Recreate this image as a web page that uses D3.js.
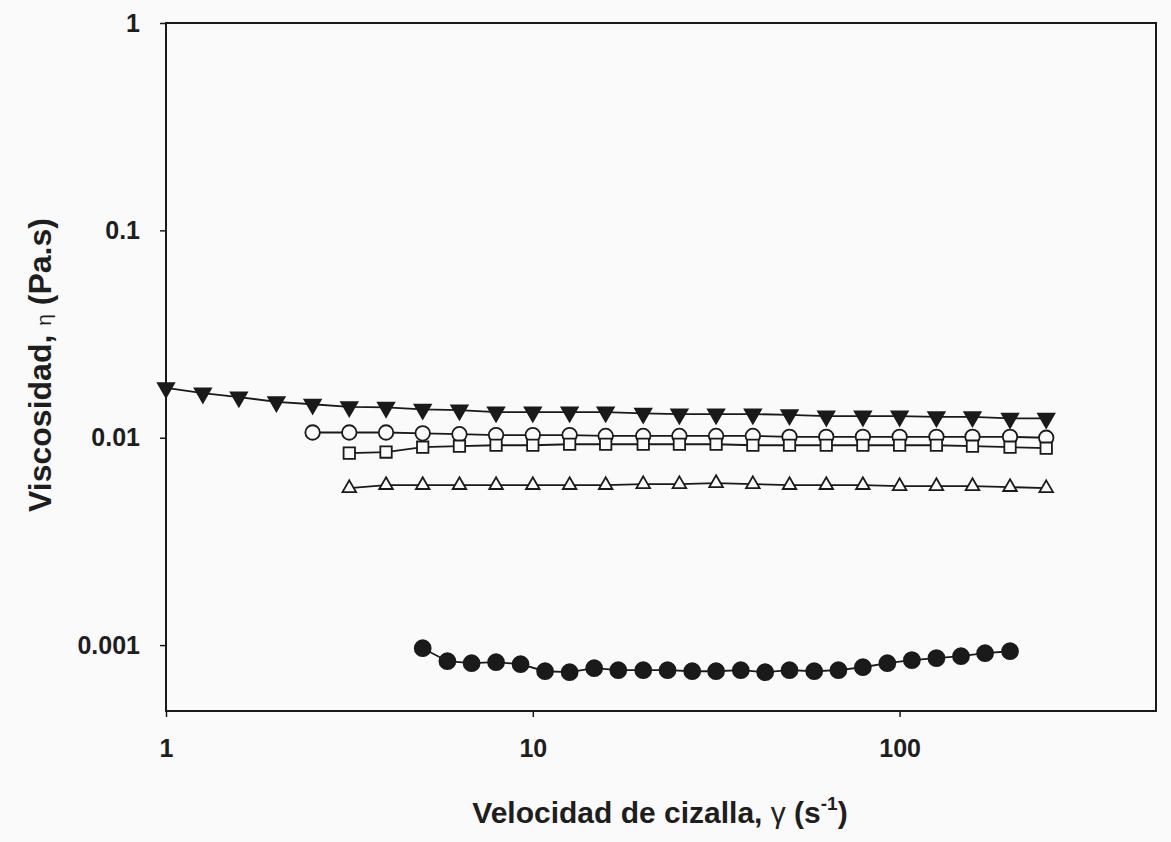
<!DOCTYPE html>
<html>
<head>
<meta charset="utf-8">
<script src="https://cdn.jsdelivr.net/npm/d3@7"></script>
<style>
  body { margin: 0; background: #fafafa; }
  svg text { font-family: "Liberation Sans", Arial, sans-serif; fill: #1e1e1e; }
</style>
</head>
<body>
<svg id="chart" width="1171" height="842"></svg>
<script>
// Shear rate values (s^-1)
var xTriDown = [1, 1.26, 1.58, 2, 2.51, 3.16, 3.98, 5.01, 6.31, 7.94, 10, 12.6, 15.8, 20, 25.1, 31.6, 39.8, 50.1, 63.1, 79.4, 100, 126, 158, 200, 251];
var xCircle = [2.51, 3.16, 3.98, 5.01, 6.31, 7.94, 10, 12.6, 15.8, 20, 25.1, 31.6, 39.8, 50.1, 63.1, 79.4, 100, 126, 158, 200, 251];
var xSquare = [3.16, 3.98, 5.01, 6.31, 7.94, 10, 12.6, 15.8, 20, 25.1, 31.6, 39.8, 50.1, 63.1, 79.4, 100, 126, 158, 200, 251];
var xTriUp = xSquare;
var xDot = [5.01, 5.85, 6.81, 7.94, 9.26, 10.8, 12.6, 14.7, 17.1, 20, 23.3, 27.2, 31.6, 36.9, 43, 50.1, 58.5, 68.1, 79.4, 92.6, 108, 126, 147, 171, 200];

// Viscosity values (Pa.s)
var yTriDown = [0.0174, 0.0164, 0.0157, 0.0149, 0.0145, 0.0141, 0.0140, 0.0137, 0.0136, 0.0133, 0.0133, 0.0133, 0.0133, 0.0131, 0.0130, 0.0130, 0.0130, 0.0129, 0.0127, 0.0127, 0.0127, 0.0126, 0.0126, 0.0124, 0.0124];
var yCircle = [0.0106, 0.0106, 0.0106, 0.0105, 0.0104, 0.0103, 0.0103, 0.0103, 0.0102, 0.0102, 0.0102, 0.0102, 0.0102, 0.0101, 0.0101, 0.0101, 0.0101, 0.0101, 0.0101, 0.0101, 0.0100];
var ySquare = [0.00843, 0.00853, 0.0090, 0.0091, 0.0092, 0.0092, 0.0093, 0.0093, 0.0093, 0.0093, 0.0093, 0.0092, 0.0092, 0.0092, 0.0092, 0.0092, 0.0092, 0.0091, 0.0090, 0.0089];
var yTriUp = [0.00571, 0.00591, 0.00591, 0.00591, 0.00591, 0.00591, 0.00591, 0.00591, 0.00597, 0.00597, 0.00604, 0.00597, 0.00591, 0.00591, 0.00591, 0.00584, 0.00584, 0.00584, 0.00578, 0.00571];
var yDot = [0.000966, 0.000836, 0.000818, 0.000827, 0.000809, 0.000748, 0.000740, 0.000774, 0.000757, 0.000757, 0.000757, 0.000748, 0.000748, 0.000757, 0.000740, 0.000757, 0.000748, 0.000757, 0.000782, 0.000818, 0.000846, 0.000865, 0.000884, 0.000914, 0.000934];

var xTicks = [1, 10, 100];
var yTicks = [1, 0.1, 0.01, 0.001];

var svg = d3.select("#chart");
var plotL = 166, plotR = 1156, plotT = 23, plotB = 711;

var x = d3.scaleLog().domain([1, 500]).range([plotL, plotR]);
var y = d3.scaleLog().domain([0.000481, 1]).range([plotB, plotT]);

// frame
svg.append("rect")
    .attr("x", plotL).attr("y", plotT)
    .attr("width", plotR - plotL).attr("height", plotB - plotT)
    .attr("fill", "none").attr("stroke", "#1a1a1a").attr("stroke-width", 2);

// axes (ticks only, the frame draws the lines)
var xAxis = svg.append("g")
    .attr("transform", "translate(0," + plotB + ")")
    .call(d3.axisBottom(x).tickValues(xTicks).tickFormat(d3.format("d")).tickSize(6).tickPadding(22));
var yAxis = svg.append("g")
    .attr("transform", "translate(" + plotL + ",0)")
    .call(d3.axisLeft(y).tickValues(yTicks).tickFormat(function (d) { return String(d); }).tickSize(6).tickPadding(20));

[xAxis, yAxis].forEach(function (g) {
    g.select(".domain").remove();
    g.selectAll(".tick line").attr("stroke", "#1a1a1a").attr("stroke-width", 1.5);
    g.selectAll(".tick text")
        .style("font-size", "25px")
        .style("font-weight", "bold")
        .attr("fill", "#1e1e1e");
});

// series
function drawLine(xs, ys) {
    var pts = xs.map(function (d, i) { return [d, ys[i]]; });
    svg.append("path")
        .datum(pts)
        .attr("fill", "none")
        .attr("stroke", "#1a1a1a")
        .attr("stroke-width", 1.8)
        .attr("d", d3.line().x(function (d) { return x(d[0]); }).y(function (d) { return y(d[1]); }));
    return pts;
}

function drawSymbols(pts, type, size, fill) {
    svg.append("g")
        .selectAll("path")
        .data(pts)
        .enter()
        .append("path")
        .attr("transform", function (d) { return "translate(" + x(d[0]) + "," + y(d[1]) + ")" + (type === "down" ? " rotate(180)" : ""); })
        .attr("d", d3.symbol().type(type === "up" || type === "down" ? d3.symbolTriangle : (type === "square" ? d3.symbolSquare : d3.symbolCircle)).size(size))
        .attr("fill", fill)
        .attr("stroke", "#1a1a1a")
        .attr("stroke-width", 1.8);
}

var pDown = drawLine(xTriDown, yTriDown);
var pCircle = drawLine(xCircle, yCircle);
var pSquare = drawLine(xSquare, ySquare);
var pUp = drawLine(xTriUp, yTriUp);
var pDot = drawLine(xDot, yDot);

drawSymbols(pCircle, "circle", 165, "#fafafa");
drawSymbols(pSquare, "square", 130, "#fafafa");
drawSymbols(pUp, "up", 80, "#fafafa");
drawSymbols(pDown, "down", 115, "#1a1a1a");
drawSymbols(pDot, "circle", 200, "#1a1a1a");

// axis titles
var xt = svg.append("text")
    .attr("x", 660).attr("y", 823)
    .attr("text-anchor", "middle")
    .style("font-size", "30px").style("font-weight", "bold");
xt.append("tspan").text("Velocidad de cizalla, ");
xt.append("tspan").style("font-weight", "normal").text("\u03b3");
xt.append("tspan").text(" (s");
xt.append("tspan").attr("dy", -13).style("font-size", "19px").text("-1");
xt.append("tspan").attr("dy", 13).text(")");

var yt = svg.append("text")
    .attr("transform", "translate(51,365) rotate(-90)")
    .attr("text-anchor", "middle")
    .style("font-size", "32px").style("font-weight", "bold");
yt.append("tspan").text("Viscosidad, ");
yt.append("tspan").style("font-size", "21px").style("font-weight", "normal").text("\u03b7");
yt.append("tspan").text(" (Pa.s)");
</script>
</body>
</html>
